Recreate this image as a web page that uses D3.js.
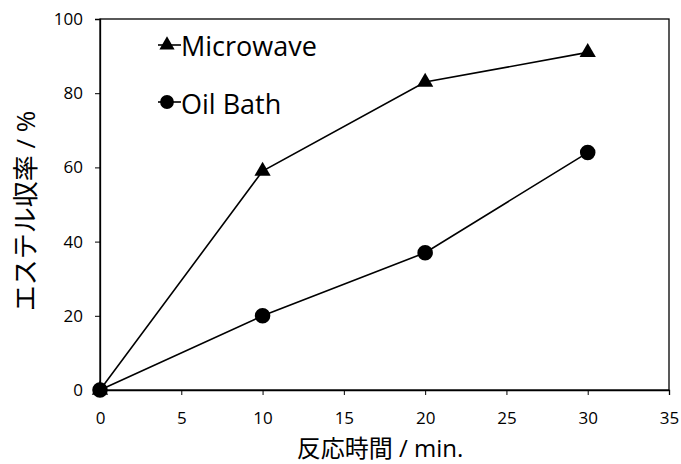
<!DOCTYPE html>
<html>
<head>
<meta charset="utf-8">
<script src="https://cdn.jsdelivr.net/npm/d3@7"></script>
<style>
  html, body { margin: 0; padding: 0; background: #fff; }
  svg { display: block; }
  text { font-family: "Open Sans", "Noto Sans CJK JP", sans-serif; fill: #000; }
</style>
</head>
<body>
<svg id="chart" width="681" height="464"></svg>
<script>
// Reaction time (min) and ester yield (%)
const times = [0, 10, 20, 30];
const microwave = [0, 59, 83, 91];
const oilBath = [0, 20, 37, 64];
const xTicks = [0, 5, 10, 15, 20, 25, 30, 35];
const yTicks = [0, 20, 40, 60, 80, 100];
const seriesNames = ["Microwave", "Oil Bath"];

const svg = d3.select("#chart");
const x = d3.scaleLinear().domain([0, 35]).range([100, 669]);
const y = d3.scaleLinear().domain([0, 100]).range([390, 19]);

// plot frame
svg.append("rect")
  .attr("x", x(0)).attr("y", y(100))
  .attr("width", x(35) - x(0)).attr("height", y(0) - y(100))
  .attr("fill", "none").attr("stroke", "#000").attr("stroke-width", 1.3);

const xAxis = svg.append("g")
  .attr("transform", `translate(0,${y(0)})`)
  .call(d3.axisBottom(x).tickValues(xTicks).tickSize(5).tickPadding(17));
const yAxis = svg.append("g")
  .attr("transform", `translate(${x(0)},0)`)
  .call(d3.axisLeft(y).tickValues(yTicks).tickSize(5).tickPadding(12));

[xAxis, yAxis].forEach(g => {
  g.attr("font-family", null).attr("font-size", null);
  g.select(".domain").attr("stroke", "#000").attr("stroke-width", 1.3);
  g.selectAll(".tick line").attr("stroke", "#000");
  g.selectAll(".tick text")
    .attr("fill", "#000")
    .style("font-size", "17px")
    .style("font-family", "'Open Sans', sans-serif");
});

// axis titles
svg.append("text")
  .attr("x", 380).attr("y", 457)
  .attr("text-anchor", "middle")
  .attr("font-size", 24)
  .text("反応時間 / min.");
svg.append("text")
  .attr("transform", "translate(35,211) rotate(-90)")
  .attr("text-anchor", "middle")
  .attr("font-size", 26)
  .text("エステル収率 / %");

const line = d3.line().x((d, i) => x(times[i])).y(d => y(d));
const tri = d3.symbol().type(d3.symbolTriangle).size(115);
const circ = d3.symbol().type(d3.symbolCircle).size(190);
const triSmall = d3.symbol().type(d3.symbolTriangle).size(100);
const circSmall = d3.symbol().type(d3.symbolCircle).size(150);

function drawSeries(vals, sym) {
  svg.append("path").datum(vals)
    .attr("d", line).attr("fill", "none")
    .attr("stroke", "#000").attr("stroke-width", 1.6);
  svg.selectAll(null).data(vals).enter().append("path")
    .attr("d", sym)
    .attr("transform", (d, i) => `translate(${x(times[i])},${y(d)})`)
    .attr("fill", "#000");
}
drawSeries(oilBath, circ);
drawSeries(microwave, tri);

// legend
const legend = [
  { name: seriesNames[0], sym: triSmall, cy: 45, base: 56 },
  { name: seriesNames[1], sym: circSmall, cy: 102, base: 114 }
];
legend.forEach(l => {
  svg.append("line")
    .attr("x1", 158).attr("x2", 181).attr("y1", l.cy).attr("y2", l.cy)
    .attr("stroke", "#000").attr("stroke-width", 1.6);
  svg.append("path").attr("d", l.sym)
    .attr("transform", `translate(167,${l.cy})`).attr("fill", "#000");
  svg.append("text")
    .attr("x", 181).attr("y", l.base)
    .attr("font-size", 27)
    .text(l.name);
});
</script>
</body>
</html>
